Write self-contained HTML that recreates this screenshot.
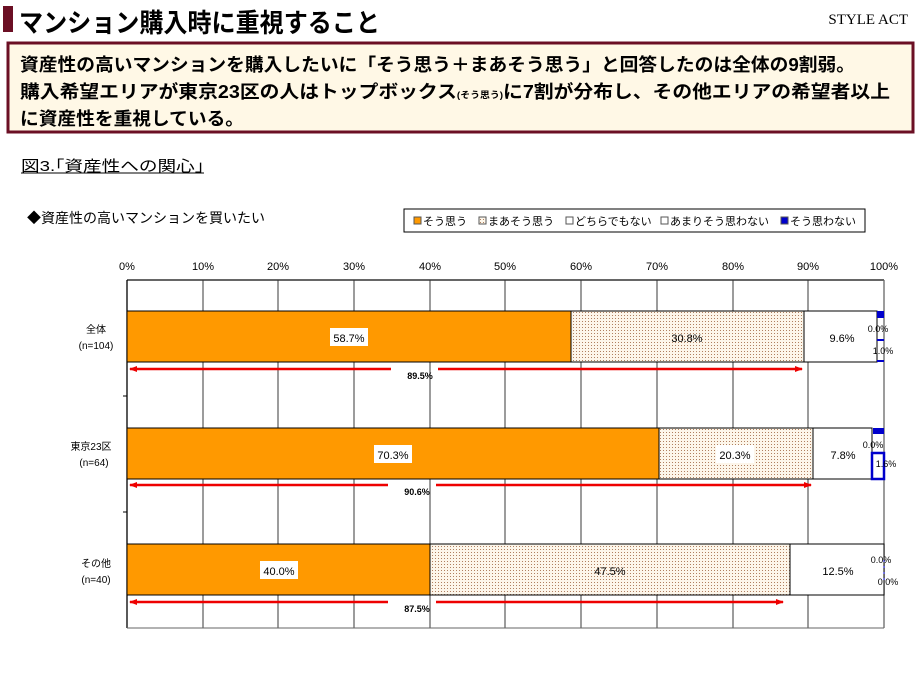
<!DOCTYPE html>
<html><head><meta charset="utf-8"><style>
body{margin:0;background:#fff;width:922px;height:692px;overflow:hidden;font-family:"Liberation Sans","Noto Sans CJK JP",sans-serif;}
</style></head><body>
<svg width="922" height="692" xmlns="http://www.w3.org/2000/svg" style="position:absolute;left:0;top:0">
<defs>
<pattern id="dot" width="3" height="3" patternUnits="userSpaceOnUse"><rect width="3" height="3" fill="#fdf6ea"/><rect x="0" y="0" width="1" height="1" fill="#b08060"/></pattern>
<marker id="ah" markerWidth="8" markerHeight="6" refX="7" refY="3" orient="auto" markerUnits="userSpaceOnUse"><path d="M0,0 L8,3 L0,6z" fill="#e00"/></marker>
<marker id="at" markerWidth="8" markerHeight="6" refX="1" refY="3" orient="auto" markerUnits="userSpaceOnUse"><path d="M8,0 L0,3 L8,6z" fill="#e00"/></marker>
</defs>
<rect x="3" y="6" width="10" height="26" fill="#6b0f24"/>
<text x="19" y="32" font-size="26" font-weight="bold" textLength="361" lengthAdjust="spacingAndGlyphs">マンション購入時に重視すること</text>
<text x="908" y="24" font-size="15" text-anchor="end" font-family="Liberation Serif,serif">STYLE ACT</text>
<rect x="8" y="43" width="905" height="89" fill="#fff8e6" stroke="#6b0f24" stroke-width="3"/>
<g font-size="18" font-weight="bold">
<text x="20" y="71" textLength="835" lengthAdjust="spacingAndGlyphs">資産性の高いマンションを購入したいに「そう思う＋まあそう思う」と回答したのは全体の9割弱。</text>
<text x="20" y="98" textLength="870" lengthAdjust="spacingAndGlyphs">購入希望エリアが東京23区の人はトップボックス<tspan font-size="9">(そう思う)</tspan>に7割が分布し、その他エリアの希望者以上</text>
<text x="20" y="125" textLength="224" lengthAdjust="spacingAndGlyphs">に資産性を重視している。</text>
</g>
<text x="21" y="171" font-size="15" textLength="183" lengthAdjust="spacingAndGlyphs">図3.｢資産性への関心｣</text>
<line x1="21" y1="173" x2="204" y2="173" stroke="#000"/>
<text x="27" y="223" font-size="14">◆資産性の高いマンションを買いたい</text>
<rect x="404" y="209" width="461" height="23" fill="#fff" stroke="#000"/>
<g font-size="11">
<rect x="414" y="217" width="7" height="7" fill="#f90" stroke="#555"/><text x="423" y="225">そう思う</text>
<rect x="479" y="217" width="7" height="7" fill="url(#dot)" stroke="#555"/><text x="488" y="225">まあそう思う</text>
<rect x="566" y="217" width="7" height="7" fill="#fff" stroke="#555"/><text x="575" y="225">どちらでもない</text>
<rect x="661" y="217" width="7" height="7" fill="#fff" stroke="#555"/><text x="670" y="225">あまりそう思わない</text>
<rect x="781" y="217" width="7" height="7" fill="#0000cc" stroke="#555"/><text x="790" y="225">そう思わない</text>
</g>
<g font-size="11" text-anchor="middle">
<text x="127" y="270">0%</text><text x="203" y="270">10%</text><text x="278" y="270">20%</text><text x="354" y="270">30%</text><text x="430" y="270">40%</text><text x="505" y="270">50%</text><text x="581" y="270">60%</text><text x="657" y="270">70%</text><text x="733" y="270">80%</text><text x="808" y="270">90%</text><text x="884" y="270">100%</text>
</g>
<g stroke="#666" stroke-width="1.3">
<line x1="203" y1="280" x2="203" y2="628"/><line x1="278" y1="280" x2="278" y2="628"/><line x1="354" y1="280" x2="354" y2="628"/><line x1="430" y1="280" x2="430" y2="628"/><line x1="505" y1="280" x2="505" y2="628"/><line x1="581" y1="280" x2="581" y2="628"/><line x1="657" y1="280" x2="657" y2="628"/><line x1="733" y1="280" x2="733" y2="628"/><line x1="808" y1="280" x2="808" y2="628"/>
</g>
<line x1="127" y1="280" x2="884" y2="280" stroke="#333" stroke-width="1.5"/>
<line x1="884" y1="280" x2="884" y2="628" stroke="#666" stroke-width="1.3"/>
<line x1="127" y1="280" x2="127" y2="628" stroke="#000" stroke-width="1.3"/>
<line x1="123" y1="396" x2="127" y2="396" stroke="#000"/><line x1="123" y1="512" x2="127" y2="512" stroke="#000"/>
<g stroke="#000" stroke-width="1">
<rect x="127" y="311" width="444" height="51" fill="#f90"/>
<rect x="571" y="311" width="233" height="51" fill="url(#dot)"/>
<rect x="804" y="311" width="73" height="51" fill="#fff"/>
<rect x="127" y="428" width="532" height="51" fill="#f90"/>
<rect x="659" y="428" width="154" height="51" fill="url(#dot)"/>
<rect x="813" y="428" width="59" height="51" fill="#fff"/>
<rect x="127" y="544" width="303" height="51" fill="#f90"/>
<rect x="430" y="544" width="360" height="51" fill="url(#dot)"/>
<rect x="790" y="544" width="94" height="51" fill="#fff"/>
</g>
<rect x="877" y="311" width="7" height="7" fill="#00c"/><rect x="877" y="339" width="7" height="2" fill="#00c"/><rect x="877" y="360" width="7" height="2" fill="#00c"/>
<rect x="873" y="428" width="11" height="6" fill="#00c"/><rect x="872" y="453" width="12" height="26" fill="#fff" stroke="#00c" stroke-width="2.5"/>
<line x1="884" y1="560" x2="884" y2="580" stroke="#00c" stroke-dasharray="2,4"/>
<g font-size="11" text-anchor="middle">
<rect x="330" y="328" width="38" height="18" fill="#fff"/><text x="349" y="342">58.7%</text>
<text x="687" y="342">30.8%</text><text x="842" y="342">9.6%</text>
<rect x="374" y="445" width="38" height="18" fill="#fff"/><text x="393" y="459">70.3%</text>
<rect x="716" y="445" width="38" height="18" fill="#fff"/><text x="735" y="459">20.3%</text><text x="843" y="459">7.8%</text>
<rect x="260" y="561" width="38" height="18" fill="#fff"/><text x="279" y="575">40.0%</text>
<text x="610" y="575">47.5%</text><text x="838" y="575">12.5%</text>
</g>
<g font-size="9" text-anchor="middle">
<text x="878" y="332">0.0%</text><text x="883" y="354">1.0%</text>
<text x="873" y="448">0.0%</text><text x="886" y="467">1.6%</text>
<text x="881" y="563">0.0%</text><text x="888" y="585">0.0%</text>
</g>
<g font-size="10" text-anchor="middle">
<text x="96" y="333">全体</text><text x="96" y="349">(n=104)</text>
<text x="91" y="450">東京23区</text><text x="94" y="466">(n=64)</text>
<text x="96" y="567">その他</text><text x="96" y="583">(n=40)</text>
</g>
<g stroke="#e00" stroke-width="2.5">
<line x1="130" y1="369" x2="391" y2="369" marker-start="url(#at)"/><line x1="438" y1="369" x2="802" y2="369" marker-end="url(#ah)"/>
<line x1="130" y1="485" x2="388" y2="485" marker-start="url(#at)"/><line x1="436" y1="485" x2="811" y2="485" marker-end="url(#ah)"/>
<line x1="130" y1="602" x2="388" y2="602" marker-start="url(#at)"/><line x1="436" y1="602" x2="783" y2="602" marker-end="url(#ah)"/>
</g>
<g font-size="9" font-weight="bold" text-anchor="middle">
<text x="420" y="379">89.5%</text><text x="417" y="495">90.6%</text><text x="417" y="612">87.5%</text>
</g>
<line x1="127" y1="628" x2="884" y2="628" stroke="#666"/>
</svg>
</body></html>
